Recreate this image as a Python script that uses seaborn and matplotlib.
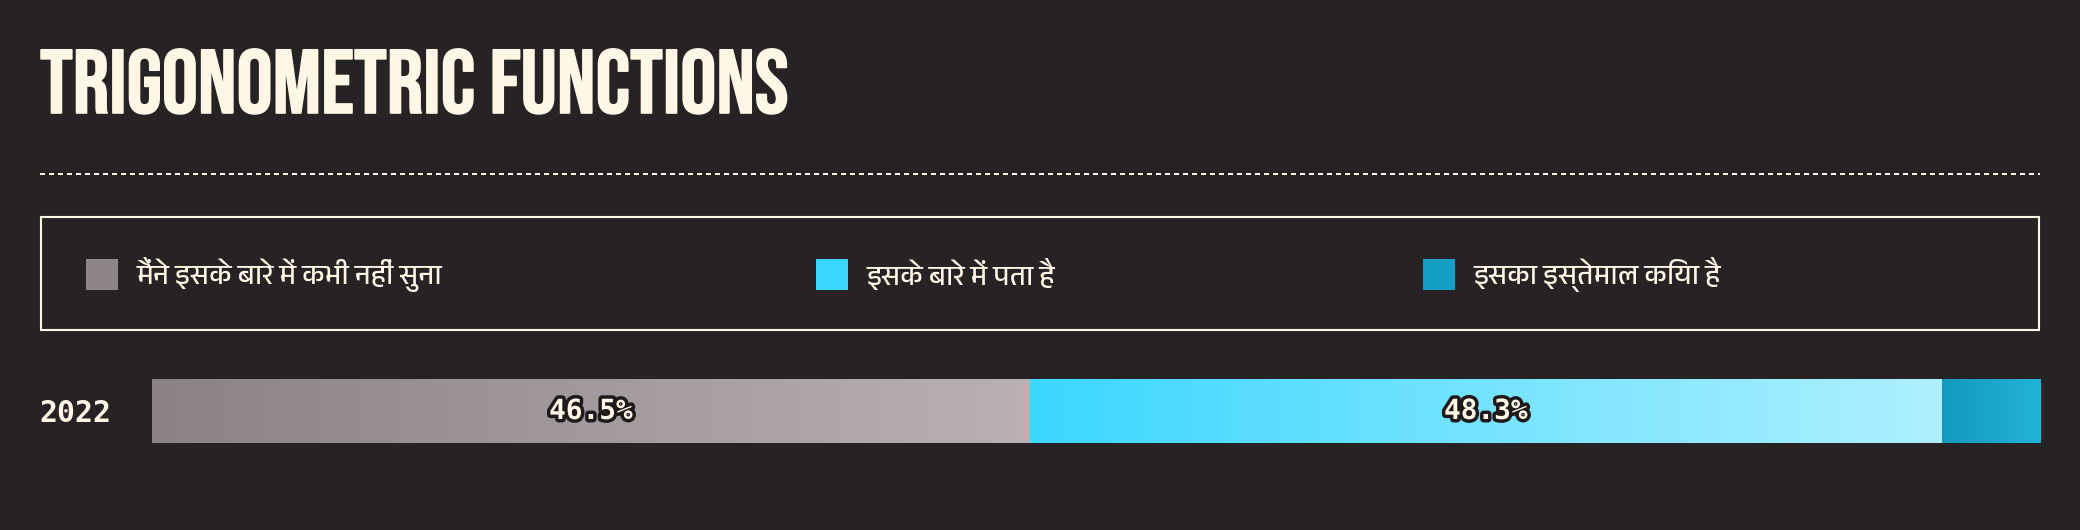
import numpy as np
import pandas as pd
import matplotlib
matplotlib.use("Agg")
import matplotlib.pyplot as plt
import matplotlib.patheffects as pe
from matplotlib import font_manager
from matplotlib.colors import LinearSegmentedColormap
from matplotlib.patches import Rectangle
from matplotlib.lines import Line2D
import seaborn as sns

# chart data
years = ["2022"]
categories = ["मैंने इसके बारे में कभी नहीं सुना", "इसके बारे में पता है", "इसका इस्तेमाल किया है"]
never_heard = [46.5]
know_about = [48.3]
have_used = [5.2]
title = "TRIGONOMETRIC FUNCTIONS"

BG = "#272324"
CREAM = "#fff6e6"
legend_colors = ["#8d858a", "#3ad6ff", "#149fc5"]
gradients = [("#8a8287", "#bbb1b4"), ("#3cd7ff", "#aff0ff"), ("#1399bf", "#22b3d9")]

sns.set_style("dark")


def installed():
    return {f.name for f in font_manager.fontManager.ttflist}


def font_with_char(ch, prefer=("Devanagari",)):
    # find an installed family that has the given glyph
    try:
        from fontTools.ttLib import TTFont
    except ImportError:
        return None
    hits = []
    for f in font_manager.fontManager.ttflist:
        try:
            tt = TTFont(f.fname, fontNumber=0, lazy=True)
            cmap = tt.getBestCmap() or {}
            if ord(ch) in cmap:
                hits.append(f.name)
        except Exception:
            pass
    for p in prefer:
        for h in hits:
            if p in h:
                return h
    return hits[0] if hits else None


names = installed()
title_font = next((n for n in ["Bebas Neue", "Oswald", "Liberation Sans Narrow", "DejaVu Sans"] if n in names), "DejaVu Sans")
deva_font = font_with_char("\u0915")
deva_family = [deva_font, "DejaVu Sans"] if deva_font else ["DejaVu Sans"]

W, H = 2080, 530
fig = plt.figure(figsize=(W / 100, H / 100), dpi=100, facecolor=BG)


def fx(px):
    return px / W


def fy(py):
    return 1 - py / H


# title
fig.text(fx(40), fy(113), title, color=CREAM, fontsize=65, fontweight="bold",
         family=title_font, va="baseline", ha="left",
         path_effects=[pe.withStroke(linewidth=1.2, foreground=CREAM)])

# dashed rule
fig.add_artist(Line2D([fx(40), fx(2040)], [fy(174), fy(174)], color=CREAM,
                      lw=1.44, dashes=(2.5, 2), transform=fig.transFigure))

# legend box
fig.add_artist(Rectangle((fx(41), fy(330)), fx(1998), 113 / H, transform=fig.transFigure,
                         facecolor="none", edgecolor=CREAM, lw=1.5))
sq_x = [86, 816, 1423]
for x, c, lab in zip(sq_x, legend_colors, categories):
    fig.add_artist(Rectangle((fx(x), fy(290)), fx(32), 31 / H, transform=fig.transFigure,
                             facecolor=c, edgecolor="none"))
    fig.text(fx(x + 51), fy(274), lab, color=CREAM, fontsize=20,
             family=deva_family, va="center", ha="left")

# stacked bar
df = pd.DataFrame({"year": years, "never": never_heard, "know": know_about, "used": have_used})
df["c1"] = df["never"]
df["c2"] = df["never"] + df["know"]
df["c3"] = df["c2"] + df["used"]

ax = fig.add_axes([fx(152), fy(443), fx(1888), 64 / H])
ax.set_facecolor(BG)
for col, c in zip(["c3", "c2", "c1"], legend_colors[::-1]):
    sns.barplot(data=df, x=col, y="year", orient="h", color=c, width=1,
                saturation=1, ax=ax)

starts = [0, df["c1"][0], df["c2"][0]]
ends = [df["c1"][0], df["c2"][0], df["c3"][0]]
vals = [never_heard[0], know_about[0], have_used[0]]
grad = np.linspace(0, 1, 256).reshape(1, -1)
for s, e, v, (c0, c1) in zip(starts, ends, vals, gradients):
    cmap = LinearSegmentedColormap.from_list("g", [c0, c1])
    ax.imshow(grad, cmap=cmap, aspect="auto", extent=[s, e, 0.5, -0.5], zorder=3)
    if v > 10:
        ax.text((s + e) / 2, 0, f"{v}%", ha="center", va="center", color=CREAM,
                fontsize=20, fontweight="bold", family="DejaVu Sans Mono", zorder=5,
                path_effects=[pe.withStroke(linewidth=5, foreground="#1e1a1b")])

ax.set_xlim(0, 100)
ax.set_ylim(0.5, -0.5)
ax.set_xlabel("")
ax.set_ylabel("")
ax.set_xticks([])
for sp in ax.spines.values():
    sp.set_visible(False)
ax.tick_params(axis="y", length=0, pad=29.5, labelsize=21.5, labelcolor=CREAM)
for t in ax.get_yticklabels():
    t.set_fontfamily("DejaVu Sans Mono")
    t.set_fontweight("bold")

fig.savefig("out.png", dpi=100, facecolor=BG)
